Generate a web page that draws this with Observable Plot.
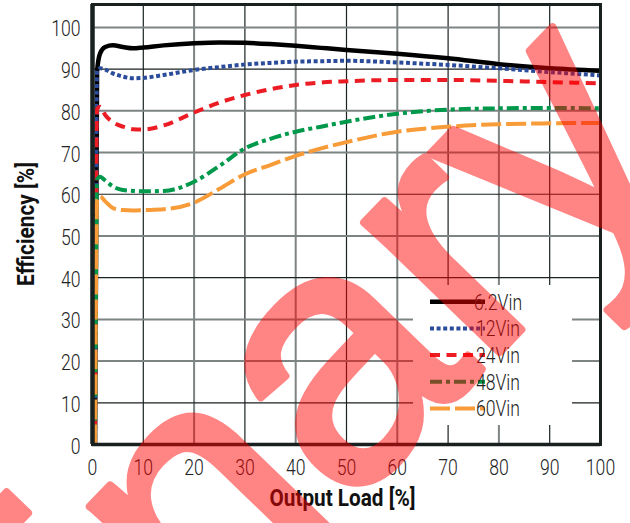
<!DOCTYPE html>
<html>
<head>
<meta charset="utf-8">
<script src="https://cdn.jsdelivr.net/npm/d3@7"></script>
<script src="https://cdn.jsdelivr.net/npm/@observablehq/plot@0.6"></script>
<style>
  html, body { margin: 0; padding: 0; background: #fff; }
  #chart { width: 630px; height: 523px; }
</style>
</head>
<body>
<div id="chart"></div>
<script>
// Efficiency vs. output load for five input voltages
const seriesNames = ["6.2Vin", "12Vin", "24Vin", "48Vin", "60Vin"];
const load    = [0.5, 0.9, 1.5, 2.5, 4, 6, 8, 10, 14, 20, 25, 30, 35, 40, 45, 50, 60, 70, 80, 90, 100];
const eff6v2  = [0, 89.5, 93.8, 95.3, 95.7, 95.3, 95.0, 95.2, 95.7, 96.2, 96.4, 96.3, 96.0, 95.6, 95.1, 94.6, 93.7, 92.6, 91.2, 90.2, 89.6];
const eff12v  = [0, 89.6, 90.2, 89.9, 89.0, 88.2, 87.8, 87.9, 88.6, 89.8, 90.5, 91.1, 91.5, 91.8, 91.9, 92.0, 91.6, 91.0, 90.2, 89.3, 88.5];
const eff24v  = [0, 80.5, 81.0, 79.0, 77.3, 76.2, 75.6, 75.5, 76.5, 79.6, 82.0, 83.8, 85.2, 86.2, 86.8, 87.1, 87.4, 87.4, 87.2, 86.9, 86.6];
const eff48v  = [0, 63.5, 64.2, 63.3, 61.9, 61.0, 60.8, 60.7, 60.8, 63.0, 66.8, 71.0, 73.3, 75.0, 76.2, 77.4, 79.3, 80.3, 80.6, 80.7, 80.6];
const eff60v  = [0, 58.5, 59.5, 58.3, 56.7, 56.2, 56.1, 56.2, 56.4, 58.0, 61.3, 64.8, 67.0, 69.2, 71.0, 72.5, 75.0, 76.2, 76.8, 77.0, 77.1];
const xTicks  = [0, 10, 20, 30, 40, 50, 60, 70, 80, 90, 100];
const yTicks  = [0, 10, 20, 30, 40, 50, 60, 70, 80, 90, 100];
const xGridDark = [10, 30, 50, 70, 90];
const xGridGray = [20, 40, 60, 80];
const yGridDark = [10, 40, 60, 90];
const yGridGray = [20, 30, 50, 70, 80, 100];
const xTitle  = "Output Load [%]";
const yTitle  = "Efficiency [%]";
const stamp   = "Preliminary";

const effBySeries = [eff6v2, eff12v, eff24v, eff48v, eff60v];
const lineStyles = [
  {stroke: "#000000", dash: null,         width: 4.5},
  {stroke: "#2b4c9b", dash: "4,2.6",      width: 4},
  {stroke: "#ec1c24", dash: "10,6.5",     width: 4},
  {stroke: "#00984a", dash: "12,4,4,4",   width: 4},
  {stroke: "#f89c3a", dash: "20,5",       width: 4}
];

const rows = seriesNames.map((name, i) =>
  load.map((x, j) => ({series: name, load: x, eff: effBySeries[i][j]})));

const font = "Roboto, 'Liberation Sans', sans-serif";
const gridDark = "#1a2222";
const gridGray = "#7d8483";
const frameColor = "#18211f";

const marks = [
  Plot.ruleX(xGridGray, {stroke: gridGray, strokeWidth: 2}),
  Plot.ruleX(xGridDark, {stroke: gridDark, strokeWidth: 1.2}),
  Plot.ruleY(yGridGray, {stroke: gridGray, strokeWidth: 2}),
  Plot.ruleY(yGridDark, {stroke: gridDark, strokeWidth: 1.2}),
  ...rows.map((data, i) => Plot.line(data, {
    x: "load", y: "eff",
    stroke: lineStyles[i].stroke,
    strokeWidth: lineStyles[i].width,
    strokeDasharray: lineStyles[i].dash,
    strokeLinecap: "butt",
    strokeLinejoin: "round",
    curve: "monotone-x"
  })),
  Plot.frame({stroke: frameColor, strokeWidth: 3}),
  Plot.ruleX([0], {stroke: frameColor, strokeWidth: 4.5}),
  Plot.ruleY([0], {stroke: frameColor, strokeWidth: 3.5}),
  Plot.axisX(xTicks, {tickSize: 0, tickPadding: 15, label: null, fill: "#222"}),
  Plot.axisY(yTicks, {tickSize: 0, tickPadding: 12, dy: 2, label: null, fill: "#222"}),
  Plot.text([xTitle], {text: d => d, frameAnchor: "bottom", dy: 61, dx: -4,
    fontSize: 23, fontWeight: "bold", fill: "#111"}),
  // rotated title, started from its lower end so it stays centred once narrowed
  Plot.text([yTitle], {text: d => d, frameAnchor: "left", dx: -66, dy: 61.5, rotate: -90,
    textAnchor: "start", fontSize: 23, fontWeight: "bold", fill: "#111"})
];

const chart = Plot.plot({
  width: 630,
  height: 523,
  marginLeft: 92,
  marginRight: 30,
  marginTop: 4,
  marginBottom: 79,
  x: {domain: [0, 100]},
  y: {domain: [0, 105.5]},
  style: {fontFamily: font, fontSize: "22px", fontWeight: 300, background: "#fff", color: "#222", overflow: "visible"},
  marks
});

const svg = d3.select(chart);

// In-plot legend with a white panel over the grid
const legend = svg.append("g").attr("font-family", font).attr("font-size", 22).attr("font-weight", 300);
legend.append("rect")
  .attr("x", 413).attr("y", 285).attr("width", 159).attr("height", 140)
  .attr("fill", "#fff");
seriesNames.forEach((name, i) => {
  const y = 301.7 + i * 26.7;
  legend.append("line")
    .attr("x1", 430).attr("x2", 485).attr("y1", y).attr("y2", y)
    .attr("stroke", lineStyles[i].stroke)
    .attr("stroke-width", lineStyles[i].width)
    .attr("stroke-dasharray", lineStyles[i].dash);
  legend.append("text")
    .attr("x", 498).attr("y", y).attr("dy", "0.36em")
    .attr("fill", "#222").text(name);
});

document.getElementById("chart").appendChild(chart);

// Narrow the typeface so labels take the width of a condensed face
const titleWidths = {[xTitle]: 146, [yTitle]: 124};
svg.selectAll("text").each(function () {
  const w = this.getComputedTextLength();
  const target = titleWidths[this.textContent] ?? w * 0.8;
  this.setAttribute("textLength", target);
  this.setAttribute("lengthAdjust", "spacingAndGlyphs");
});

// Translucent diagonal stamp across the whole figure
svg.append("g").attr("opacity", 0.48)
  .append("text")
  .attr("transform", "translate(688,157) rotate(-46)")
  .attr("text-anchor", "end")
  .attr("font-family", "'Liberation Sans', Arial, sans-serif")
  .attr("font-size", 355)
  .attr("fill", "#ff0000")
  .attr("stroke", "#ff0000")
  .attr("stroke-width", 8)
  .attr("stroke-linejoin", "round")
  .text(stamp);
</script>
</body>
</html>
